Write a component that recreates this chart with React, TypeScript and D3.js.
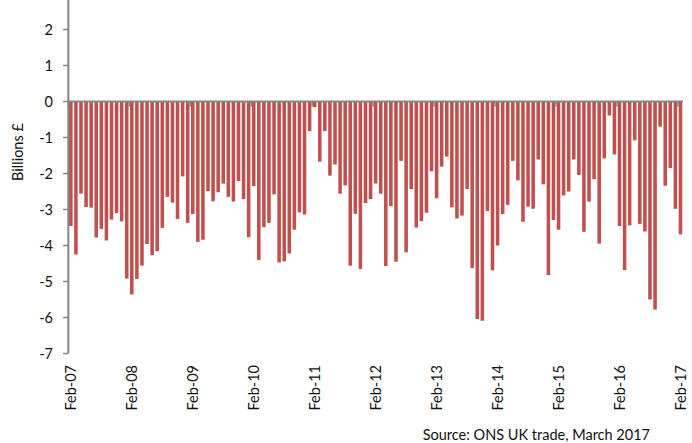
import * as d3 from "d3";
import { useEffect, useRef } from "react";

// monthly UK trade balance, Feb 2007 .. Feb 2017, billions of pounds
const balance: number[] = [
  -3.46, -4.25, -2.56, -2.93, -2.95, -3.78, -3.54, -3.86, -3.28, -3.10, -3.33, -4.92,
  -5.36, -4.93, -4.56, -3.96, -4.27, -4.16, -3.51, -2.65, -2.81, -3.26, -2.08, -3.37,
  -3.13, -3.90, -3.84, -2.49, -2.77, -2.52, -2.28, -2.65, -2.78, -2.21, -2.71, -3.77,
  -2.35, -4.40, -3.49, -3.37, -2.58, -4.47, -4.44, -4.22, -3.56, -3.08, -3.14, -0.82,
  -0.16, -1.67, -0.82, -2.06, -1.75, -2.56, -2.33, -4.56, -3.12, -4.65, -2.82, -2.71,
  -2.28, -2.56, -4.57, -2.91, -4.45, -1.65, -4.19, -2.43, -3.50, -3.32, -3.09, -1.94,
  -2.69, -1.81, -1.53, -2.94, -3.25, -3.17, -2.43, -4.63, -6.04, -6.09, -3.04, -4.69,
  -4.00, -3.13, -2.87, -1.65, -2.19, -3.34, -2.92, -2.98, -1.61, -2.30, -4.82, -3.29,
  -3.56, -2.61, -2.50, -1.61, -2.04, -3.62, -2.78, -2.16, -3.95, -1.58, -0.39, -1.47,
  -3.46, -4.68, -3.44, -1.08, -3.40, -3.61, -5.50, -5.78, -0.70, -2.34, -1.85, -2.98,
  -3.69,
];

const tickLabels: string[] = [
  "Feb-07", "Feb-08", "Feb-09", "Feb-10", "Feb-11", "Feb-12",
  "Feb-13", "Feb-14", "Feb-15", "Feb-16", "Feb-17",
];

const yTicks: number[] = [-7, -6, -5, -4, -3, -2, -1, 0, 1, 2];

const W = 692;
const H = 443;
const FONT = "Lato, 'Liberation Sans', sans-serif";
const AXIS = "#868686";
const INK = "#111";

export default function App() {
  const ref = useRef<SVGSVGElement>(null);

  useEffect(() => {
    const svg = d3.select(ref.current);
    svg.selectAll("*").remove();

    const x = d3
      .scaleBand<number>()
      .domain(d3.range(balance.length))
      .range([68.3, 683])
      .paddingInner(0.3)
      .paddingOuter(0.15);

    const y = d3.scaleLinear().domain([-7, 3]).range([353.5, -6.5]);
    const step = x.step();
    const edge = (i: number) => (x(i) as number) - (step * 0.3) / 2;

    // bars
    svg
      .append("g")
      .selectAll("rect")
      .data(balance)
      .join("rect")
      .attr("x", (_, i) => x(i) as number)
      .attr("width", x.bandwidth())
      .attr("y", (d) => y(Math.max(0, d)))
      .attr("height", (d) => Math.abs(y(d) - y(0)))
      .attr("fill", "#c0504d");

    // y axis
    const yAxis = svg.append("g");
    yAxis
      .append("line")
      .attr("x1", 68.3)
      .attr("x2", 68.3)
      .attr("y1", 0)
      .attr("y2", y(-7))
      .attr("stroke", AXIS)
      .attr("stroke-width", 2);
    yAxis
      .selectAll(".yt")
      .data(yTicks)
      .join("line")
      .attr("x1", 63)
      .attr("x2", 68.3)
      .attr("y1", (d) => y(d))
      .attr("y2", (d) => y(d))
      .attr("stroke", AXIS)
      .attr("stroke-width", 1.5);
    yAxis
      .selectAll("text")
      .data(yTicks)
      .join("text")
      .attr("x", 53)
      .attr("y", (d) => y(d))
      .attr("dy", "0.35em")
      .attr("text-anchor", "end")
      .attr("font-family", FONT)
      .attr("font-size", 14.5)
      .attr("fill", INK)
      .text((d) => d);

    // x axis along zero
    const xAxis = svg.append("g");
    xAxis
      .append("line")
      .attr("x1", 68.3)
      .attr("x2", 683)
      .attr("y1", y(0))
      .attr("y2", y(0))
      .attr("stroke", AXIS)
      .attr("stroke-width", 2);
    const tickIdx = tickLabels.map((_, k) => k * 12);
    xAxis
      .selectAll(".xt")
      .data(tickIdx)
      .join("line")
      .attr("x1", (i) => edge(i))
      .attr("x2", (i) => edge(i))
      .attr("y1", y(0))
      .attr("y2", y(0) + 5)
      .attr("stroke", AXIS)
      .attr("stroke-width", 1.5);

    // labels sit at the bottom of the plot
    svg
      .append("g")
      .selectAll("text")
      .data(tickIdx)
      .join("text")
      .attr(
        "transform",
        (i) => `translate(${(x(i) as number) + x.bandwidth() / 2 + 0.5},365) rotate(-90)`
      )
      .attr("dy", "0.35em")
      .attr("text-anchor", "end")
      .attr("font-family", FONT)
      .attr("font-size", 14.5)
      .attr("fill", INK)
      .text((_, k) => tickLabels[k]);

    svg
      .append("text")
      .attr("transform", "translate(18,152) rotate(-90)")
      .attr("dy", "0.35em")
      .attr("text-anchor", "middle")
      .attr("font-family", FONT)
      .attr("font-size", 14.5)
      .attr("fill", INK)
      .text("Billions £");

    svg
      .append("text")
      .attr("x", 650)
      .attr("y", 440)
      .attr("text-anchor", "end")
      .attr("font-family", FONT)
      .attr("font-size", 14.5)
      .attr("fill", INK)
      .text("Source: ONS UK trade, March 2017");
  }, []);

  return (
    <svg
      ref={ref}
      width={W}
      height={H}
      style={{ position: "absolute", left: 0, top: 0, background: "#fff" }}
    />
  );
}
